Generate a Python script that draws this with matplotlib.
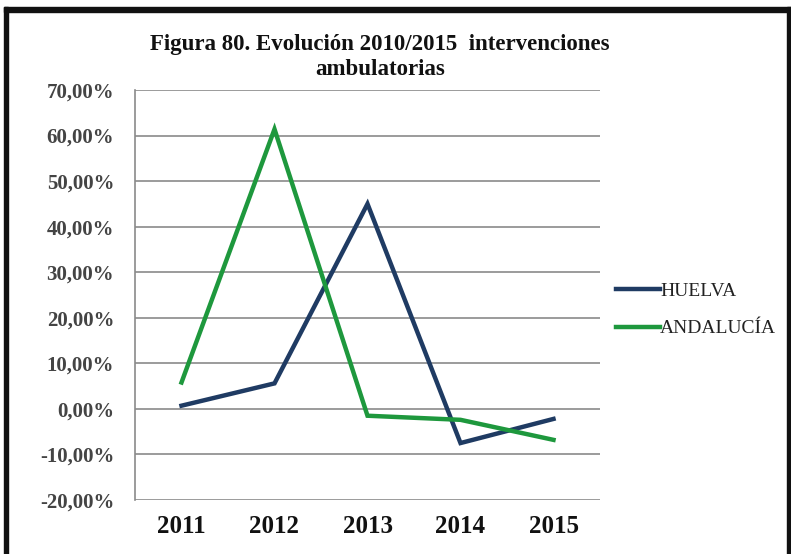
import matplotlib
matplotlib.use("Agg")
import matplotlib.pyplot as plt
from matplotlib.patches import Rectangle

years = ["2011", "2012", "2013", "2014", "2015"]
huelva = [0.7, 5.6, 45.0, -7.5, -2.2]
andalucia = [5.8, 61.4, -1.5, -2.4, -6.8]
yticks = [-20, -10, 0, 10, 20, 30, 40, 50, 60, 70]
title = "Figura 80. Evolución 2010/2015  intervenciones\nambulatorias"

fig = plt.figure(figsize=(7.91, 5.54), dpi=100)
ax = fig.add_axes([135/791, 1-500/554, 465/791, 410/554])

x = range(len(years))
ax.plot(x, huelva, color="#1F3B63", lw=3.2, label="HUELVA", solid_joinstyle="miter")
ax.plot(x, andalucia, color="#1E983D", lw=3.2, label="ANDALUCÍA", solid_joinstyle="miter")

ax.set_xlim(-0.5, 4.5)
ax.set_ylim(-20, 70)
ax.set_yticks(yticks)
ax.set_yticklabels([f"{v:.2f}%".replace(".", ",") for v in yticks],
                   fontfamily="Liberation Serif", fontweight="bold", fontsize=15, color="#444444")
ax.set_xticks(list(x))
ax.set_xticklabels(years, fontfamily="Liberation Serif", fontweight="bold", fontsize=18, color="#111111")
ax.tick_params(axis="y", length=0, pad=15)
ax.tick_params(axis="x", length=0, pad=11)
ax.grid(axis="y", color="#8a8a8a", lw=1.2)
ax.set_axisbelow(True)
for s in ["top", "right", "bottom"]:
    ax.spines[s].set_visible(False)
ax.spines["left"].set_color("#8a8a8a")
ax.spines["left"].set_linewidth(1.2)

fig.text(380/791, 1-57/554, title, ha="center", va="center", fontfamily="Liberation Serif",
         fontweight="bold", fontsize=16.5, linespacing=1.2, color="#111111")

leg = ax.legend(loc="center left", bbox_to_anchor=(598/791, 1-310/554), bbox_transform=fig.transFigure,
                frameon=False, handlelength=2.3, handletextpad=0.0, labelspacing=1.0,
                prop={"family": "Liberation Serif", "size": 14})
for t in leg.get_texts():
    t.set_color("#222222")

# frame
fig.patches.append(Rectangle((4/791, 0), 4/791, 1-7/554, transform=fig.transFigure, color="#111111"))
fig.patches.append(Rectangle((4/791, 1-12/554), 787/791, 5/554, transform=fig.transFigure, color="#111111"))
fig.patches.append(Rectangle((787/791, 0), 4/791, 1-7/554, transform=fig.transFigure, color="#111111"))

fig.savefig("out.png", dpi=100)
